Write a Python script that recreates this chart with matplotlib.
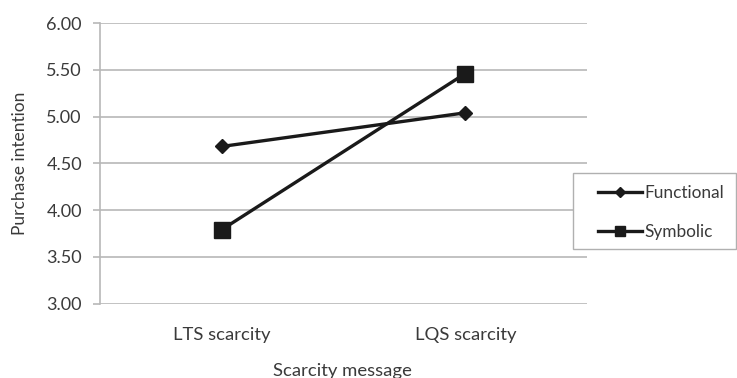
import matplotlib
matplotlib.use("Agg")
import matplotlib.pyplot as plt
from matplotlib.lines import Line2D
from matplotlib.patches import Rectangle

categories = ["LTS scarcity", "LQS scarcity"]
series_names = ["Functional", "Symbolic"]
functional = [4.68, 5.04]
symbolic = [3.79, 5.46]
yticks = [3.0, 3.5, 4.0, 4.5, 5.0, 5.5, 6.0]

plt.rcParams['font.family'] = ['Lato', 'DejaVu Sans']
txt = '#3a3a3a'
grid = '#b8b8b8'
ink = '#1a1a1a'

fig = plt.figure(figsize=(7.37, 3.78), dpi=100)
ax = fig.add_axes([0.1357, 0.197, 0.6608, 0.742])
x = list(range(len(categories)))
ax.plot(x, functional, color=ink, lw=2.4, marker='D', ms=7, label=series_names[0])
ax.plot(x, symbolic, color=ink, lw=2.4, marker='s', ms=11, label=series_names[1])
ax.set_xlim(-0.5, 1.5)
ax.set_ylim(3.0, 6.0)
ax.set_yticks(yticks)
ax.set_yticklabels([f"{v:.2f}" for v in yticks], fontsize=13, color=txt)
ax.set_xticks(x)
ax.set_xticklabels(categories, fontsize=13.3, color=txt)
ax.tick_params(axis='x', length=0, pad=17)
ax.tick_params(axis='y', length=5, color=grid, width=1.2, pad=8)
ax.yaxis.grid(True, color=grid, lw=1.2)
ax.set_axisbelow(True)
for s in ['top', 'right', 'bottom']:
    ax.spines[s].set_visible(False)
ax.spines['left'].set_color(grid)
ax.spines['left'].set_linewidth(1.2)
ax.set_ylabel('Purchase intention', fontsize=12.5, color=txt)
ax.yaxis.set_label_coords(-0.147, 0.5)
ax.set_xlabel('Scarcity message', fontsize=13.3, color=txt)
ax.xaxis.set_label_coords(0.498, -0.213)

# legend frame
fig.patches.append(Rectangle((0.7775, 0.341), 0.2212, 0.201, transform=fig.transFigure,
                             facecolor='white', edgecolor='#b0b0b0', lw=1.0, zorder=5))
handles = [Line2D([], [], color=ink, lw=2.4, marker='D', ms=5),
           Line2D([], [], color=ink, lw=2.4, marker='s', ms=7)]
leg = fig.legend(handles, series_names, loc='upper left', bbox_to_anchor=(0.8114, 0.511),
                 frameon=False, fontsize=12.4, handlelength=2.55, handletextpad=0.17,
                 labelspacing=1.35, borderpad=0, borderaxespad=0)
leg.set_zorder(6)
for t in leg.get_texts():
    t.set_color(txt)

fig.savefig('out.png', dpi=100)
